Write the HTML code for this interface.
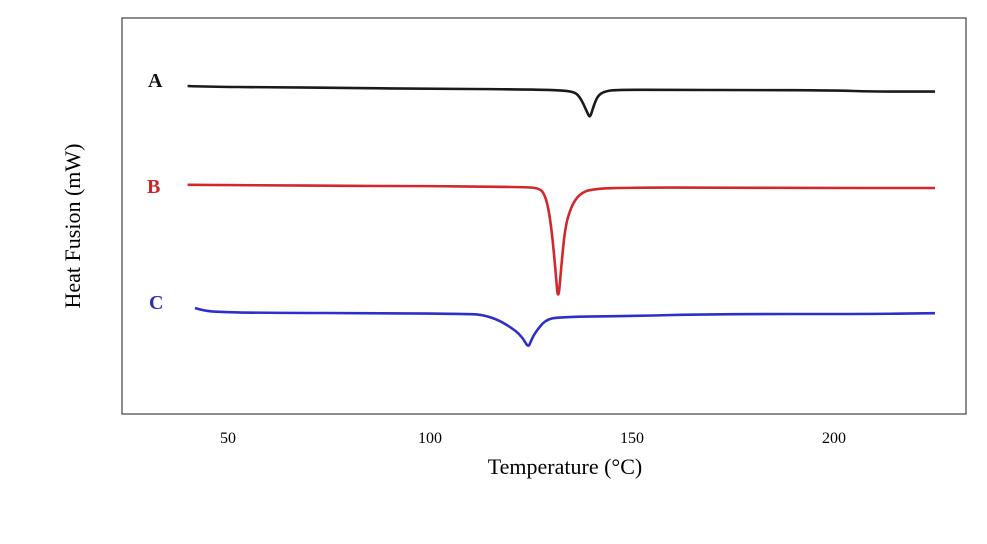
<!DOCTYPE html>
<html><head><meta charset="utf-8"><style>
body{margin:0;background:#fff;}
svg text{font-family:"Liberation Serif",serif;}
</style></head><body>
<svg width="987" height="539" viewBox="0 0 987 539">
<rect x="122" y="18" width="844" height="396" fill="#fff" stroke="#666" stroke-width="1.5"/>
<g id="ticks"></g>
<g id="series"></g>
<text x="565" y="474" font-size="22" text-anchor="middle">Temperature (°C)</text>
<text transform="translate(80,226) rotate(-90)" font-size="22" text-anchor="middle">Heat Fusion (mW)</text>
<text x="148" y="87" font-size="20" font-weight="bold" fill="#111">A</text>
<text x="147" y="193" font-size="20" font-weight="bold" fill="#c8282c">B</text>
<text x="149" y="309" font-size="20" font-weight="bold" fill="#2f2fb4">C</text>
</svg>
<script>
const xTicks=[50,100,150,200];
const tempsA=[40,45,60,80,100,120,130,134,136,137,138,139,139.6,140.5,141.5,143,146,160,180,200,210,225];
const valsA=[82,81.8,81.7,81.5,81.3,81.2,81,80.8,80.3,79.3,77.5,75.2,74.0,77,79.5,80.6,81.1,81,81,80.9,80.6,80.6];
const tempsB=[40,60,80,100,115,125,127,128,129,130,131,131.7,132.5,133.5,135,137,140,150,170,190,225];
const valsB=[57.3,57.2,57,57,56.8,56.7,56.3,55.5,53,47,37,27.5,37,47,52,55,56.3,56.6,56.6,56.5,56.5];
const tempsC=[41.8,44,48,57,90,110,113,117,121,123,124.3,125,126,128.5,132,150,170,210,225];
const valsC=[26.5,25.8,25.5,25.3,25.2,25,24.8,23.5,21,19,16.6,18.3,20.3,23.5,24.3,24.5,25,25,25.2];
const seriesColors={A:"#1a1a1a",B:"#d0282c",C:"#2f2fc8"};
function xs(t){return 26+t*4.04;}
function ys(v){return 414-v*4;}
const NS="http://www.w3.org/2000/svg";
const tg=document.getElementById('ticks');
xTicks.forEach(t=>{
  const el=document.createElementNS(NS,'text');
  el.setAttribute('x',xs(t));el.setAttribute('y',443);
  el.setAttribute('font-size','16');el.setAttribute('text-anchor','middle');
  el.textContent=t;
  
  
  tg.appendChild(el);
});
function smoothPath(T,V){
  const P=T.map((t,i)=>[xs(t),ys(V[i])]);
  let d='M'+P[0][0].toFixed(1)+' '+P[0][1].toFixed(1);
  for(let i=1;i<P.length-1;i++){
    const mx=(P[i][0]+P[i+1][0])/2,my=(P[i][1]+P[i+1][1])/2;
    d+=' Q'+P[i][0].toFixed(1)+' '+P[i][1].toFixed(1)+' '+mx.toFixed(1)+' '+my.toFixed(1);
  }
  const L=P[P.length-1];
  d+=' L'+L[0].toFixed(1)+' '+L[1].toFixed(1);
  return d;
}
const sg=document.getElementById('series');
[["A",tempsA,valsA],["B",tempsB,valsB],["C",tempsC,valsC]].forEach(([k,T,V])=>{
  const p=document.createElementNS(NS,'path');
  p.setAttribute('d',smoothPath(T,V));
  p.setAttribute('fill','none');p.setAttribute('stroke',seriesColors[k]);
  p.setAttribute('stroke-width','2.6');p.setAttribute('stroke-linejoin','round');
  
  
  sg.appendChild(p);
});
</script>
</body></html>
